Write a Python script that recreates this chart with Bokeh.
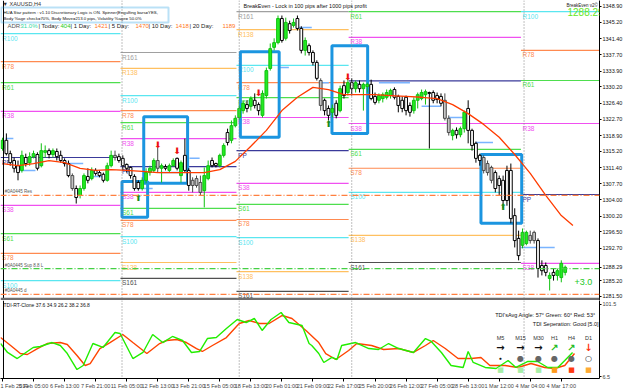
from bokeh.plotting import figure
from bokeh.layouts import column
from bokeh.models import (Range1d, FixedTicker, Span, Label, BoxAnnotation,
                          ColumnDataSource, NumeralTickFormatter)
from bokeh.core.properties import value
from bokeh.embed import file_html
from bokeh.resources import INLINE

# ---------------- data (XAUUSD H4) ----------------
opens = [1315.9, 1317.8, 1314.7, 1313.1, 1311.9, 1310.8, 1313.8, 1312.6, 1314.0, 1314.5,
         1311.9, 1315.0, 1315.4, 1314.5, 1315.2, 1314.3, 1313.1, 1312.4, 1309.6, 1306.6,
         1305.0, 1306.6, 1309.4, 1308.9, 1310.8, 1310.3, 1309.9, 1308.5, 1311.9, 1314.3,
         1314.0, 1313.6, 1312.2, 1311.5, 1309.4, 1308.0, 1306.6, 1308.5, 1310.3, 1310.8,
         1313.1, 1311.3, 1311.7, 1310.8, 1311.9, 1313.6, 1309.6, 1314.3, 1310.8, 1307.3,
         1308.9, 1308.0, 1306.1, 1308.9, 1313.1, 1312.4, 1311.9, 1314.3, 1319.6, 1317.8,
         1321.2, 1323.1, 1324.7, 1326.1, 1325.7, 1327.1, 1326.1, 1323.6, 1328.2, 1334.5,
         1339.4, 1340.5, 1346.1, 1341.5, 1344.9, 1344.5, 1346.1, 1343.8, 1338.7, 1339.8,
         1338.2, 1335.9, 1331.7, 1327.1, 1325.2, 1324.3, 1326.4, 1324.7, 1330.5, 1328.9,
         1331.2, 1329.8, 1330.8, 1329.8, 1330.3, 1330.8, 1328.0, 1327.1, 1327.5, 1327.8,
         1328.2, 1329.6, 1328.0, 1327.1, 1327.8, 1325.9, 1324.7, 1327.1, 1327.5, 1328.4,
         1328.9, 1328.9, 1328.2, 1328.0, 1327.1, 1322.9, 1318.9, 1320.1, 1319.1, 1320.5,
         1325.2, 1320.1, 1317.1, 1314.3, 1313.8, 1312.4, 1311.5, 1310.3, 1308.9, 1308.5,
         1310.8, 1310.8, 1300.3, 1295.0, 1293.4, 1293.8, 1295.7, 1294.5, 1294.5, 1288.7,
         1288.7, 1285.7, 1287.1, 1286.4, 1285.9, 1287.1]
highs = [1318.4, 1319.4, 1315.4, 1313.8, 1313.1, 1315.4, 1314.7, 1315.0, 1315.4, 1315.0,
         1317.1, 1316.6, 1315.9, 1315.9, 1315.9, 1315.4, 1313.6, 1313.1, 1310.1, 1307.3,
         1307.3, 1310.1, 1311.3, 1311.5, 1311.3, 1310.8, 1310.3, 1312.6, 1315.4, 1315.4,
         1314.7, 1314.3, 1312.4, 1311.7, 1309.9, 1308.5, 1309.2, 1311.3, 1311.9, 1313.6,
         1316.1, 1312.4, 1312.2, 1312.4, 1313.6, 1313.8, 1313.1, 1318.2, 1311.3, 1309.2,
         1309.6, 1309.6, 1311.5, 1313.1, 1313.8, 1312.6, 1314.7, 1317.1, 1320.5, 1322.4,
         1323.6, 1325.9, 1327.1, 1327.1, 1328.0, 1328.7, 1326.6, 1329.4, 1334.7, 1340.3,
         1341.5, 1346.8, 1346.8, 1346.3, 1345.6, 1346.1, 1346.8, 1344.3, 1341.7, 1340.3,
         1338.7, 1336.4, 1332.2, 1327.5, 1325.9, 1326.1, 1327.1, 1330.5, 1331.7, 1332.2,
         1332.2, 1331.7, 1331.7, 1331.2, 1331.2, 1331.9, 1328.9, 1328.7, 1328.9, 1329.6,
         1329.8, 1330.1, 1328.4, 1328.0, 1328.2, 1326.6, 1327.8, 1328.9, 1329.6, 1329.6,
         1329.1, 1329.4, 1328.9, 1328.7, 1328.7, 1323.6, 1320.5, 1320.8, 1321.0, 1324.7,
         1327.1, 1320.5, 1317.5, 1314.7, 1314.3, 1313.1, 1311.9, 1310.8, 1309.6, 1309.6,
         1311.9, 1312.4, 1302.0, 1296.8, 1297.3, 1296.8, 1296.8, 1296.8, 1295.0, 1289.9,
         1289.4, 1287.1, 1288.0, 1288.0, 1289.9, 1288.7]
lows = [1315.4, 1314.3, 1311.9, 1310.3, 1308.5, 1310.3, 1311.7, 1311.9, 1313.6, 1310.8,
        1311.5, 1313.8, 1313.6, 1313.8, 1313.1, 1312.6, 1311.7, 1309.2, 1306.1, 1303.1,
        1304.3, 1306.1, 1307.8, 1308.5, 1309.6, 1309.2, 1308.0, 1308.2, 1311.5, 1313.1,
        1312.6, 1310.8, 1310.3, 1308.9, 1306.1, 1306.1, 1306.1, 1307.8, 1309.6, 1310.3,
        1310.3, 1308.0, 1310.8, 1310.3, 1311.7, 1310.8, 1308.0, 1310.3, 1306.1, 1305.7,
        1306.8, 1305.0, 1302.2, 1308.5, 1311.5, 1311.5, 1311.5, 1313.8, 1316.6, 1317.1,
        1320.8, 1322.6, 1324.0, 1324.3, 1324.7, 1325.2, 1323.6, 1323.1, 1327.5, 1334.0,
        1338.7, 1340.1, 1340.5, 1341.0, 1342.6, 1344.0, 1343.3, 1338.0, 1337.5, 1337.5,
        1335.2, 1331.7, 1324.7, 1323.6, 1322.4, 1323.1, 1322.9, 1324.3, 1327.5, 1328.2,
        1328.2, 1328.9, 1328.9, 1324.7, 1328.9, 1327.1, 1326.1, 1326.4, 1326.6, 1327.3,
        1327.5, 1327.3, 1324.3, 1324.3, 1323.6, 1323.3, 1324.0, 1325.2, 1327.1, 1326.1,
        1315.9, 1326.4, 1326.4, 1325.7, 1322.4, 1318.9, 1317.8, 1318.2, 1318.5, 1319.6,
        1317.1, 1315.4, 1312.6, 1311.9, 1310.1, 1309.6, 1307.8, 1305.7, 1305.0, 1302.0,
        1302.6, 1298.5, 1292.9, 1289.9, 1292.7, 1293.4, 1293.8, 1293.8, 1285.9, 1286.4,
        1286.2, 1282.9, 1285.2, 1285.2, 1284.8, 1286.4]
closes = [1317.8, 1314.7, 1312.6, 1311.3, 1310.3, 1314.3, 1312.4, 1314.0, 1314.7, 1311.3,
          1315.4, 1315.4, 1314.5, 1315.4, 1314.0, 1313.1, 1312.4, 1309.6, 1306.6, 1304.5,
          1306.6, 1309.6, 1308.5, 1310.8, 1310.1, 1309.6, 1308.5, 1311.9, 1314.3, 1313.8,
          1313.1, 1311.9, 1311.3, 1309.6, 1306.6, 1306.6, 1308.5, 1310.3, 1311.3, 1313.1,
          1311.3, 1311.9, 1311.3, 1311.9, 1313.1, 1311.3, 1312.6, 1310.8, 1307.3, 1308.5,
          1307.3, 1305.7, 1309.6, 1311.9, 1311.9, 1311.9, 1314.3, 1316.6, 1317.3, 1321.2,
          1322.9, 1325.2, 1326.4, 1325.2, 1327.5, 1325.9, 1324.7, 1328.7, 1334.0, 1339.1,
          1340.5, 1346.1, 1341.0, 1345.2, 1343.3, 1345.2, 1343.8, 1338.7, 1341.0, 1338.2,
          1335.9, 1332.2, 1325.9, 1324.7, 1323.6, 1325.2, 1323.6, 1329.8, 1328.2, 1331.2,
          1329.8, 1331.2, 1329.8, 1330.8, 1330.8, 1327.5, 1326.6, 1328.2, 1328.4, 1328.9,
          1329.4, 1327.8, 1325.9, 1325.2, 1324.7, 1324.3, 1327.1, 1328.4, 1328.9, 1329.1,
          1328.7, 1327.1, 1327.3, 1326.4, 1322.9, 1319.6, 1320.1, 1319.1, 1320.5, 1324.3,
          1320.1, 1316.6, 1313.6, 1313.1, 1310.8, 1310.3, 1308.5, 1306.6, 1307.3, 1303.8,
          1303.8, 1299.6, 1294.5, 1291.0, 1296.4, 1296.4, 1294.5, 1296.4, 1288.0, 1287.5,
          1287.1, 1286.4, 1286.4, 1287.5, 1289.2, 1288.3]
gray_bars = [18, 29, 40, 49, 50, 51, 82, 114, 115, 124, 125, 126, 136, 137]

ma_idx = [0, 4, 8, 12, 16, 20, 24, 28, 32, 36, 40, 44, 48, 52, 56, 60, 64, 68, 72, 76,
          80, 84, 88, 92, 96, 100, 104, 108, 112, 116, 120, 124, 128, 132, 136, 140, 144, 147]
ma_val = [1312.4, 1311.9, 1312.4, 1313.1, 1312.6, 1311.3, 1310.8, 1311.0, 1310.8, 1310.6,
          1310.3, 1310.3, 1310.3, 1310.3, 1311.0, 1312.9, 1316.4, 1320.1, 1324.7, 1327.8,
          1330.1, 1329.6, 1328.4, 1328.4, 1328.4, 1328.2, 1328.0, 1327.8, 1327.5, 1326.1,
          1324.0, 1321.5, 1318.5, 1314.5, 1310.1, 1305.0, 1300.3, 1298.0]

tdi_green_x = [-0.5, 1.3, 3.8, 6.4, 7.9, 9.7, 12.8, 14.9, 16.7, 19.2, 20.8, 23.3, 25.9, 29.0,
               30.3, 33.6, 36.2, 38.7, 41.3, 43.8, 46.4, 48.7, 50.8, 52.8, 55.1, 57.7, 60.5,
               62.8, 64.9, 66.9, 69.2, 71.8, 73.8, 77.2, 79.0, 79.7, 81.5, 82.8, 84.9, 86.2,
               87.4, 91.0, 94.4, 96.9, 99.5, 102.1, 105.9, 109.0, 110.5, 113.1, 115.6, 118.7,
               120.0, 121.3, 124.4, 127.2, 130.3, 132.3, 135.4, 137.9, 140.5, 143.1, 144.9, 146.9]
tdi_green_y = [50.0, 38.2, 30.2, 39.5, 44.8, 46.1, 51.3, 47.4, 36.8, 15.7, 21.0, 50.0, 44.8, 64.5,
               63.2, 30.2, 38.2, 61.9, 51.3, 59.3, 54.0, 38.2, 39.5, 56.6, 57.9, 69.8, 81.7,
               77.7, 83.0, 67.2, 81.7, 90.9, 77.7, 73.8, 50.0, 47.4, 36.8, 25.0, 31.6, 28.9,
               47.4, 51.3, 43.4, 42.1, 50.0, 43.4, 38.2, 56.6, 52.7, 38.2, 21.0, 18.4,
               39.5, 25.0, 18.4, 17.1, 27.6, 18.4, 26.3, 26.3, 18.4, 18.4, 27.6, 38.2]
tdi_red_x = [-0.5, 2.1, 4.6, 6.4, 9.0, 11.5, 14.9, 16.7, 19.2, 21.3, 22.6, 25.1, 27.7, 31.0,
             33.6, 37.2, 40.5, 42.3, 44.9, 47.4, 50.0, 51.5, 54.1, 57.7, 61.0, 63.6, 66.2,
             68.7, 72.1, 74.6, 78.2, 81.5, 83.3, 85.9, 89.2, 91.3, 95.1, 98.2, 102.1, 105.9,
             109.0, 111.0, 114.1, 117.4, 120.8, 123.3, 125.6, 129.5, 132.8, 136.2, 139.7,
             142.3, 144.9, 147.4]
tdi_red_y = [57.9, 47.4, 36.8, 35.5, 43.4, 50.0, 51.3, 48.7, 34.2, 21.0, 23.6, 43.4, 51.3, 61.9,
             51.3, 36.8, 50.0, 54.0, 55.3, 51.3, 43.4, 39.5, 47.4, 57.9, 76.4, 80.4, 76.4,
             76.4, 87.0, 83.0, 67.2, 51.3, 36.8, 28.9, 40.8, 50.0, 47.4, 42.1, 43.4, 38.2,
             47.4, 54.0, 43.4, 30.2, 30.2, 31.6, 21.0, 21.0, 18.4, 23.6, 18.4,
             17.1, 21.0, 36.8]

last_price = 1288.29
price_ticks = [1348.90, 1345.20, 1341.40, 1337.70, 1333.90, 1330.20, 1326.40, 1322.70, 1318.90,
               1315.20, 1311.40, 1307.70, 1304.00, 1300.20, 1296.50, 1292.70, 1285.20, 1281.50]
time_tick_idx = [0, 8, 16, 24, 32, 40, 48, 56, 64, 72, 80, 88, 96, 104, 112, 120, 128, 136, 144]
time_labels = ["1 Feb 2019", "5 Feb 05:00", "6 Feb 13:00", "7 Feb 21:00", "11 Feb 05:00",
               "12 Feb 13:00", "13 Feb 21:00", "15 Feb 05:00", "18 Feb 13:00", "20 Feb 01:00",
               "21 Feb 09:00", "22 Feb 17:00", "25 Feb 20:00", "26 Feb 12:00", "27 Feb 05:00",
               "28 Feb 13:00", "1 Mar 12:00", "4 Mar 04:00", "4 Mar 17:00"]

# pivot periods and fibonacci pivot levels (None = off screen)
seg_start = [-0.5, 30.4, 60.3, 89.2, 133.6]
seg_end = [30.4, 60.3, 89.2, 133.6, 153.9]
separators = [30.8, 61.0, 90.0, 134.4]
R161 = [None, 1338.2, 1347.7, None, None]
R138 = [None, 1334.5, 1343.5, None, None]
R100 = [1342.6, 1328.2, 1335.2, None, 1347.7]
R78 = [1336.1, 1324.7, 1331.2, None, 1338.7]
R61 = [1331.2, 1321.9, 1327.7, 1347.7, 1331.7]
R38 = [1324.5, 1318.2, 1323.1, 1341.7, 1321.7]
PP = [1313.8, 1311.7, 1315.4, 1331.6, 1305.2]
S38 = [1302.7, 1305.7, 1307.8, 1321.7, 1289.2]
S61 = [1296.1, 1302.0, 1302.9, 1315.7, None]
S78 = [1291.5, 1299.2, 1299.4, 1311.3, None]
S100 = [1285.2, 1295.4, 1295.2, 1305.7, None]
S138 = [None, 1289.4, 1287.3, 1295.7, None]
S161 = [None, 1285.7, 1282.7, 1289.4, None]

hlines = [1305.0, 1288.0, 1282.0]
hline_colors = ["#ff7f3f", "#44d044", "#ff7f3f"]
hline_tags = ["#0A0445 Res", "#0A0445 Sup 8.8 L", "#0A0445 d"]

# short light-blue marker lines (start bar, end bar, price)
mark_x0 = [0.8, 4.6, 15.6, 23.3, 34.6, 40.5, 48.2, 71.3, 75.6, 81.5, 97.0, 108.0, 115.0, 122.0, 133.6]
mark_x1 = [2.8, 8.5, 20.8, 25.9, 38.7, 45.6, 50.8, 73.8, 79.7, 84.1, 105.0, 113.0, 119.0, 126.4, 142.3]
mark_p = [1318.2, 1310.8, 1312.4, 1309.4, 1306.6, 1310.3, 1313.6, 1334.7, 1344.0, 1331.2,
          1331.2, 1325.7, 1323.1, 1317.3, 1292.9]

box_left = [30.8, 36.4, 61.3, 84.9, 123.3]
box_right = [37.4, 47.7, 71.3, 94.1, 133.8]
box_top = [1308.2, 1323.3, 1338.4, 1339.8, 1314.5]
box_bottom = [1299.9, 1307.8, 1318.5, 1319.4, 1298.5]

sell_idx = [40, 45, 66, 89]
sell_price = [1316.6, 1315.4, 1328.7, 1332.4]
buy_idx = [35, 84, 129]
buy_price = [1304.3, 1321.7, 1302.2]

mtf_frames = ["M5", "M15", "M30", "H1", "H4", "D1"]
mtf_arrows = ["→", "→", "→", "↗", "↗", "↓"]
mtf_arrow_colors = ["#111111", "#111111", "#111111", "#22bb22", "#22bb22", "#ff3311"]
mtf_dots = ["•", "●", "●", "●", "●", "○"]
mtf_dot_colors = ["#111111", "#666666", "#666666", "#666666", "#666666", "#111111"]
mtf_square_colors = ["#a6eea6", "#a6eea6", "#a6eea6", "#ff9a1a", "#ff3a10", "#ffaa33"]

# ---------------- layout constants ----------------
FONT = "Liberation Sans"
BAR_PX = 3.9
X0_PX = 2.0
FRAME_W = 602
MAIN_H = 300
PX_PER_USD = 1 / 0.2324
TOP_PRICE = 1350.29

x_range = Range1d(-X0_PX / BAR_PX, (FRAME_W - X0_PX) / BAR_PX)
main = figure(width=625, height=MAIN_H, x_range=x_range,
              y_range=Range1d(TOP_PRICE - MAIN_H / PX_PER_USD, TOP_PRICE),
              output_backend="svg", toolbar_location=None,
              y_axis_location="right", x_axis_location=None,
              min_border_left=0, min_border_right=23, min_border_top=0, min_border_bottom=0)
main.xgrid.visible = False
main.ygrid.visible = False
main.outline_line_color = None
main.background_fill_color = "white"
ax = main.yaxis[0]
ax.ticker = FixedTicker(ticks=sorted(price_ticks + [last_price]))
ax.formatter = NumeralTickFormatter(format="0.00")
ax.major_label_text_font = FONT
ax.major_label_text_font_size = "5.5px"
ax.major_label_text_color = "#111111"
ax.major_tick_out = 2
ax.major_tick_in = 0
ax.minor_tick_out = 0
ax.minor_tick_in = 0
ax.major_label_standoff = 1
ax.axis_line_color = "black"

# pivot levels
level_lists = [("R161", R161, "#a0a0a0"), ("R138", R138, "#ffc060"), ("R100", R100, "#5ae6f0"),
               ("R78", R78, "#ff8a50"), ("R61", R61, "#4ede4e"), ("R38", R38, "#f050f0"),
               ("PP", PP, "#3a3a9a"), ("S38", S38, "#f050f0"), ("S61", S61, "#4ede4e"),
               ("S78", S78, "#ff8a50"), ("S100", S100, "#5ae6f0"), ("S138", S138, "#ffc060"),
               ("S161", S161, "#505050")]
lv = dict(x0=[], x1=[], y=[], color=[], name=[], tx=[])
for name, vals, col in level_lists:
    for k, v in enumerate(vals):
        if v is None:
            continue
        lv["x0"].append(seg_start[k]); lv["x1"].append(seg_end[k]); lv["y"].append(v)
        lv["color"].append(col); lv["name"].append(name); lv["tx"].append(seg_start[k] + 0.4)
lvsrc = ColumnDataSource(lv)
main.segment(x0="x0", y0="y", x1="x1", y1="y", line_color="color", line_width=1.2, source=lvsrc)
main.text(x="tx", y="y", text="name", text_color="color", text_font=value(FONT),
          text_font_size="6.5px", text_baseline="top", y_offset=1, source=lvsrc)

for s in separators:
    main.add_layout(Span(location=s, dimension="height", line_color="#808080",
                         line_dash="1 2", line_width=1))
main.add_layout(Span(location=0.26, dimension="height", line_color="black", line_width=1))

for yv, col, tag in zip(hlines, hline_colors, hline_tags):
    main.add_layout(Span(location=yv, dimension="width", line_color=col,
                         line_dash="6 2 1 2", line_width=1.2))
    main.text(x=[0.6], y=[yv], text=[tag], text_color="#555555", text_font=value(FONT),
              text_font_size="4.5px", text_baseline="bottom", y_offset=-1)

main.segment(x0=mark_x0, y0=mark_p, x1=mark_x1, y1=mark_p, line_color="#7ab4ff", line_width=1.5)

# boxes
main.quad(left=box_left, right=box_right, top=box_top, bottom=box_bottom,
          fill_alpha=0, line_color="#1b95e0", line_width=3)

# candles
n = len(opens)
kind = []
for i in range(n):
    if i in gray_bars:
        kind.append("gray")
    elif closes[i] > opens[i]:
        kind.append("bull")
    else:
        kind.append("bear")
fill_map = {"bull": "#22ec22", "bear": "#ffffff", "gray": "#c4c4c4"}
line_map = {"bull": "#10c010", "bear": "#000000", "gray": "#4a4a4a"}
csrc = ColumnDataSource(dict(
    i=list(range(n)), h=highs, l=lows,
    top=[max(o, c) for o, c in zip(opens, closes)],
    bot=[min(o, c) for o, c in zip(opens, closes)],
    fill=[fill_map[k] for k in kind], line=[line_map[k] for k in kind]))
main.segment(x0="i", y0="l", x1="i", y1="h", line_color="line", line_width=1, source=csrc)
main.vbar(x="i", width=0.72, top="top", bottom="bot", fill_color="fill",
          line_color="line", line_width=1, source=csrc)

# moving average
main.line(ma_idx, ma_val, line_color="#ff3c00", line_width=1.3)

# signal arrows
main.text(x=sell_idx, y=sell_price, text=["⬇"] * len(sell_idx), text_color="#ee1111",
          text_font=value("DejaVu Sans"), text_font_size="9px",
          text_align="center", text_baseline="middle")
main.text(x=buy_idx, y=buy_price, text=["⬆"] * len(buy_idx), text_color="#1a8a1a",
          text_font=value("DejaVu Sans"), text_font_size="9px",
          text_align="center", text_baseline="middle")

# panel separator
main.add_layout(Span(location=TOP_PRICE - 298.8 / PX_PER_USD, dimension="width",
                     line_color="#6e6e6e", line_width=3))


def mlabel(txt, px, py, color="#111111", size="6px", align="left", font=FONT, **kw):
    main.add_layout(Label(x=px, y=MAIN_H - py, x_units="screen", y_units="screen", text=txt,
                          text_color=color, text_font_size=size, text_font=font,
                          text_align=align, text_baseline="middle", **kw))


mlabel("▼ XAUUSD,H4", 2, 3.5, "#333333", "5.5px")
main.add_layout(BoxAnnotation(left=0.5, right=168, top=MAIN_H - 7, bottom=MAIN_H - 22,
                              left_units="screen", right_units="screen",
                              top_units="screen", bottom_units="screen",
                              fill_alpha=0, line_color="#1a9be0", line_width=2))
mlabel("HUA Star pattern : v1.10 Discretionary Logic is ON. Spinner|Engulfing bars=YES,", 3, 11.5,
       "#111111", "4.3px")
mlabel("Body %age check=70%, Body Move=213.0 pips, Volatility %age= 50.0%", 3, 18, "#111111", "4.3px")
adr_parts = [("ADR:", 7, "#555555"), ("31.0%", 20, "#30d8a0"), ("| Today:", 38, "#222222"),
             ("404", 60, "#22cc22"), ("| 1 Day:", 70, "#222222"), ("1421", 94, "#ff7722"),
             ("| 5 Day:", 108, "#222222"), ("1470", 135, "#ff7722"), ("| 10 Day:", 148, "#222222"),
             ("1418", 175, "#ff7722"), ("| 20 Day:", 189, "#222222"), ("1189", 222, "#ff7722")]
for t, px, col in adr_parts:
    mlabel(t, px, 25.5, col, "6px")
mlabel("BreakEven - Lock in 100 pips after 1000 pips profit", 243, 5, "#111111", "5.5px")
mlabel("BreakEven v2©", 566, 5, "#222222", "4.5px")
mlabel(f"{last_price:.2f}", 567, 11, "#66e622", "10px")
mlabel("+3.0", 574, 281, "#22c822", "9px")

# ---------------- TDI sub window ----------------
TDI_PX = 1.319
sub = figure(width=625, height=391 - MAIN_H, x_range=x_range,
             y_range=Range1d(6.5 - 2 * TDI_PX, 6.5 + 76 * TDI_PX),
             output_backend="svg", toolbar_location=None, y_axis_location="right",
             min_border_left=0, min_border_right=23, min_border_top=0, min_border_bottom=13)
sub.xgrid.visible = False
sub.ygrid.visible = False
sub.outline_line_color = None
xa = sub.xaxis[0]
xa.ticker = FixedTicker(ticks=time_tick_idx)
xa.major_label_overrides = {k: v for k, v in zip(time_tick_idx, time_labels)}
xa.major_label_text_font = FONT
xa.major_label_text_font_size = "5.5px"
xa.major_label_text_align = "left"
xa.major_tick_out = 3
xa.major_tick_in = 0
xa.minor_tick_out = 0
xa.minor_tick_in = 0
xa.major_label_standoff = 1
xa.axis_line_color = "black"
ya = sub.yaxis[0]
ya.ticker = FixedTicker(ticks=[6.5, 101.5])
ya.formatter = NumeralTickFormatter(format="0.0")
ya.major_label_text_font = FONT
ya.major_label_text_font_size = "5.5px"
ya.major_tick_out = 2
ya.major_tick_in = 0
ya.minor_tick_out = 0
ya.minor_tick_in = 0
ya.major_label_standoff = 1
ya.axis_line_color = "black"

for s in separators:
    sub.add_layout(Span(location=s, dimension="height", line_color="#808080",
                        line_dash="1 2", line_width=1))
sub.add_layout(Span(location=0.26, dimension="height", line_color="black", line_width=1))

sub.line(tdi_red_x, tdi_red_y, line_color="#ff4400", line_width=1.4)
sub.line(tdi_green_x, tdi_green_y, line_color="#22ee00", line_width=1.4)


def tdi_v(py):
    return 6.5 + (376 - py) * TDI_PX


def slabel(txt, px, py, color="#111111", size="5.5px", align="left", font=FONT, style="normal"):
    sub.add_layout(Label(x=px, y=tdi_v(py), x_units="screen", y_units="data", text=txt,
                         text_color=color, text_font_size=size, text_font=font,
                         text_align=align, text_baseline="middle", text_font_style=style))


slabel("TDI-RT-Clone 37.6 34.9 26.2 38.2 36.8", 3, 304, "#111111", "5px")
slabel("TDI'sAvg Angle: 57°  Green: 60°  Red: 53°", 598, 314.5, "#111111", "5.5px", "right")
slabel("TDI Seperation: Good [5.0]", 598, 323, "#111111", "5.5px", "right")
col_px = [500, 520, 538, 554, 571, 588]
for k, tf in enumerate(mtf_frames):
    slabel(tf, col_px[k], 337.5, "#333333", "5.5px", "center")
    slabel(mtf_arrows[k], col_px[k], 347, mtf_arrow_colors[k], "10px", "center", "DejaVu Sans", "bold")
    slabel(mtf_dots[k], col_px[k], 358, mtf_dot_colors[k], "8px" if k else "6px", "center",
           "DejaVu Sans", "bold")
    slabel("■", col_px[k], 369, mtf_square_colors[k], "7px", "center", "DejaVu Sans")

layout = column(main, sub, spacing=0)
open("out.html", "w").write(file_html(layout, INLINE))
